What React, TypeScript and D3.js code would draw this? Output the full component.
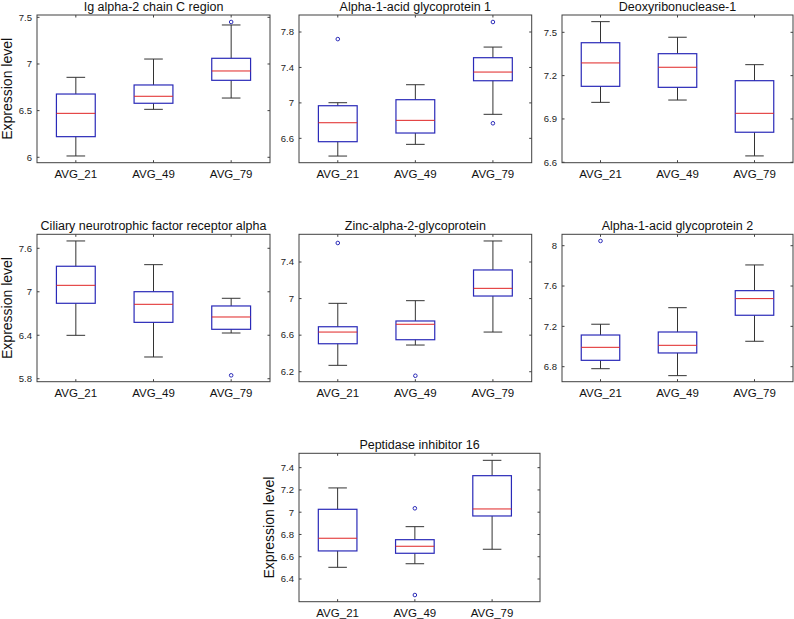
import React from 'react';
import * as d3 from 'd3';

// Groups (x categories)
const categories = ['AVG_21', 'AVG_49', 'AVG_79'];

// Panel titles
const titles = [
  'Ig alpha-2 chain C region',
  'Alpha-1-acid glycoprotein 1',
  'Deoxyribonuclease-1',
  'Ciliary neurotrophic factor receptor alpha',
  'Zinc-alpha-2-glycoprotein',
  'Alpha-1-acid glycoprotein 2',
  'Peptidase inhibitor 16',
];

// Box statistics per group: [lower whisker, Q1, median, Q3, upper whisker]
const igAlpha2 = [
  [6.014, 6.221, 6.471, 6.678, 6.857],
  [6.514, 6.579, 6.654, 6.775, 7.053],
  [6.635, 6.825, 6.925, 7.061, 7.418],
];
const igAlpha2Outliers = [[], [], [7.45]];

const agp1 = [
  [6.40, 6.562, 6.776, 6.968, 7.002],
  [6.532, 6.66, 6.803, 7.036, 7.205],
  [6.871, 7.25, 7.348, 7.51, 7.63],
];
const agp1Outliers = [[7.72], [], [7.913, 6.77]];

const dnase1 = [
  [7.015, 7.126, 7.288, 7.428, 7.574],
  [7.031, 7.119, 7.258, 7.352, 7.466],
  [6.644, 6.808, 6.939, 7.165, 7.276],
];
const dnase1Outliers = [[], [], []];

const cntfr = [
  [6.399, 6.841, 7.089, 7.352, 7.701],
  [6.10, 6.578, 6.827, 7.001, 7.374],
  [6.431, 6.482, 6.652, 6.804, 6.91],
];
const cntfrOutliers = [[], [], [5.847]];

const zag = [
  [6.27, 6.506, 6.634, 6.692, 6.948],
  [6.492, 6.55, 6.719, 6.755, 6.977],
  [6.634, 7.028, 7.112, 7.313, 7.63],
];
const zagOutliers = [[7.608], [6.156], []];

const agp2 = [
  [6.78, 6.863, 6.992, 7.114, 7.221],
  [6.711, 6.936, 7.012, 7.144, 7.385],
  [7.052, 7.31, 7.475, 7.554, 7.809],
];
const agp2Outliers = [[8.047], [], []];

const pi16 = [
  [6.505, 6.652, 6.766, 7.026, 7.218],
  [6.537, 6.631, 6.694, 6.753, 6.87],
  [6.667, 6.966, 7.029, 7.328, 7.466],
];
const pi16Outliers = [[], [7.035, 6.256], []];

// Axis ranges and tick values
const yDomains = [
  [5.942, 7.525],
  [6.325, 7.992],
  [6.597, 7.62],
  [5.759, 7.793],
  [6.091, 7.703],
  [6.651, 8.113],
  [6.196, 7.529],
];
const yTicks = [
  [6, 6.5, 7, 7.5],
  [6.6, 7, 7.4, 7.8],
  [6.6, 6.9, 7.2, 7.5],
  [5.8, 6.4, 7, 7.6],
  [6.2, 6.6, 7, 7.4],
  [6.8, 7.2, 7.6, 8],
  [6.4, 6.6, 6.8, 7, 7.2, 7.4],
];

const panelStats = [igAlpha2, agp1, dnase1, cntfr, zag, agp2, pi16];
const panelOutliers = [
  igAlpha2Outliers, agp1Outliers, dnase1Outliers, cntfrOutliers,
  zagOutliers, agp2Outliers, pi16Outliers,
];

// Layout (pixel frames of each axes box)
const frames = [
  { x0: 37, x1: 270, y0: 15, y1: 162.7, xmax: 3.5, ylabel: true },
  { x0: 299, x1: 531.7, y0: 15, y1: 162.7, xmax: 3.5, ylabel: false },
  { x0: 562, x1: 793, y0: 15, y1: 162.7, xmax: 3.5, ylabel: false },
  { x0: 37, x1: 270, y0: 234.3, y1: 381.7, xmax: 3.5, ylabel: true },
  { x0: 299, x1: 531.7, y0: 234.3, y1: 381.7, xmax: 3.5, ylabel: false },
  { x0: 562, x1: 793, y0: 234.3, y1: 381.7, xmax: 3.5, ylabel: false },
  { x0: 299, x1: 540, y0: 453.3, y1: 601.7, xmax: 3.62, ylabel: true },
];

const FONT = '"Liberation Sans", Arial, Helvetica, sans-serif';
const BOX_COLOR = '#2a2ab8';
const MED_COLOR = '#e02424';
const WHISK_COLOR = '#333333';
const AXIS_COLOR = '#404040';

function Panel({ idx }: { idx: number }) {
  const f = frames[idx];
  const x = d3.scaleLinear().domain([0.5, f.xmax]).range([f.x0, f.x1]);
  const y = d3.scaleLinear().domain(yDomains[idx]).range([f.y1, f.y0]);
  const stats = panelStats[idx];
  const outs = panelOutliers[idx];
  const boxHalf = 0.25;
  const capHalf = 0.12;
  const tl = 2.5;
  const cx = (f.x0 + f.x1) / 2;
  const cy = (f.y0 + f.y1) / 2;
  return (
    <g>
      <text x={cx} y={f.y0 - 4.5} textAnchor="middle" fontFamily={FONT} fontSize={12.5} fill="#111">
        {titles[idx]}
      </text>
      {f.ylabel && (
        <text
          transform={`translate(${f.x0 - 25},${cy}) rotate(-90)`}
          textAnchor="middle"
          fontFamily={FONT}
          fontSize={14}
          fill="#111"
        >
          Expression level
        </text>
      )}
      {/* y ticks */}
      {yTicks[idx].map((t) => (
        <g key={'yt' + t}>
          <line x1={f.x0} x2={f.x0 + tl} y1={y(t)} y2={y(t)} stroke={AXIS_COLOR} strokeWidth={1} />
          <line x1={f.x1} x2={f.x1 - tl} y1={y(t)} y2={y(t)} stroke={AXIS_COLOR} strokeWidth={1} />
          <text x={f.x0 - 5} y={y(t)} dy="0.35em" textAnchor="end" fontFamily={FONT} fontSize={9.5} fill="#222">
            {String(t)}
          </text>
        </g>
      ))}
      {/* x ticks */}
      {categories.map((c, i) => (
        <g key={'xt' + c}>
          <line x1={x(i + 1)} x2={x(i + 1)} y1={f.y1} y2={f.y1 - tl} stroke={AXIS_COLOR} strokeWidth={1} />
          <line x1={x(i + 1)} x2={x(i + 1)} y1={f.y0} y2={f.y0 + tl} stroke={AXIS_COLOR} strokeWidth={1} />
          <text x={x(i + 1)} y={f.y1 + 15.6} textAnchor="middle" fontFamily={FONT} fontSize={11.5} fill="#111">
            {c}
          </text>
        </g>
      ))}
      {/* boxes */}
      {stats.map((s, i) => {
        const [lo, q1, med, q3, hi] = s;
        const xc = x(i + 1);
        const xl = x(i + 1 - boxHalf);
        const xr = x(i + 1 + boxHalf);
        const cl = x(i + 1 - capHalf);
        const cr = x(i + 1 + capHalf);
        return (
          <g key={'b' + i}>
            <line x1={xc} x2={xc} y1={y(hi)} y2={y(q3)} stroke={WHISK_COLOR} strokeWidth={1} />
            <line x1={xc} x2={xc} y1={y(q1)} y2={y(lo)} stroke={WHISK_COLOR} strokeWidth={1} />
            <line x1={cl} x2={cr} y1={y(hi)} y2={y(hi)} stroke={WHISK_COLOR} strokeWidth={1} />
            <line x1={cl} x2={cr} y1={y(lo)} y2={y(lo)} stroke={WHISK_COLOR} strokeWidth={1} />
            <rect x={xl} y={y(q3)} width={xr - xl} height={y(q1) - y(q3)} fill="none" stroke={BOX_COLOR} strokeWidth={1.2} />
            <line x1={xl} x2={xr} y1={y(med)} y2={y(med)} stroke={MED_COLOR} strokeWidth={1} />
            {outs[i].map((o, k) => (
              <circle key={'o' + k} cx={xc} cy={y(o)} r={1.8} fill="none" stroke={BOX_COLOR} strokeWidth={1} />
            ))}
          </g>
        );
      })}
      <rect x={f.x0} y={f.y0} width={f.x1 - f.x0} height={f.y1 - f.y0} fill="none" stroke={AXIS_COLOR} strokeWidth={1} />
    </g>
  );
}

export default function App() {
  return (
    <svg
      width={794}
      height={619}
      style={{ position: 'absolute', left: 0, top: 0, background: '#fff' }}
    >
      <rect x={0} y={0} width={794} height={619} fill="#fff" />
      {titles.map((_, i) => (
        <Panel key={i} idx={i} />
      ))}
    </svg>
  );
}
